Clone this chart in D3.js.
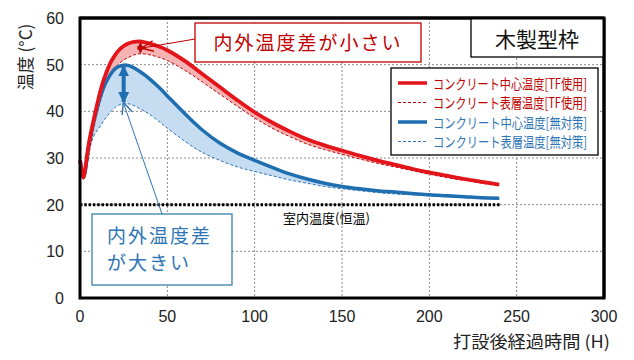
<!DOCTYPE html>
<html><head><meta charset="utf-8">
<script src="https://cdn.jsdelivr.net/npm/d3@7/dist/d3.min.js"></script>
<style>
html,body{margin:0;padding:0;background:#fff;}
svg text{font-family:"Liberation Sans","Noto Sans CJK JP",sans-serif;}
.jp{font-family:"Noto Sans CJK JP","Noto Sans",sans-serif;}
</style></head>
<body><svg id="c" width="634" height="360"></svg>
<script>
// ---- data ----
const hours      = [0,1,2,3,4,5,6,8,10,12,14,16,18,20,22,25,28,31,34,37,40,45,50,60,70,80,90,100,110,120,130,140,150,160,170,180,190,200,210,220,230,240];
const tfCenter   = [29.5,27.5,25.8,27.5,30.5,33,35,38.5,41.8,44.8,47.2,49.2,50.8,52,53,54,54.6,54.9,55,54.8,54.5,53.9,53.1,50.8,48,45.2,42.4,39.8,37.6,35.7,34.0,32.7,31.6,30.5,29.5,28.6,27.7,26.9,26.2,25.5,24.9,24.3];
const tfSurface  = [29.5,27.5,25.8,26.8,28.5,30.5,32.5,36.5,39.8,42.6,44.9,46.8,48.2,49.3,50.1,51,51.6,52.1,52.3,52.3,52.1,51.6,50.9,48.8,46.3,43.7,41.1,38.6,36.4,34.6,33.0,31.8,30.8,29.8,28.9,28.1,27.3,26.5,25.8,25.2,24.6,24.0];
const noCenter   = [29.5,27.5,25.8,27.3,30,32.5,34.5,38,41,43.5,45.5,47,48.2,49.1,49.6,49.9,49.8,49.3,48.6,47.8,46.9,45.2,43.3,39.5,36.0,33.2,31.1,29.5,28.0,26.6,25.5,24.6,23.9,23.4,23.0,22.7,22.4,22.1,21.9,21.7,21.5,21.4];
const noSurface  = [29.5,27.5,25.8,28,30,31.5,32.8,34.8,36,37,38.2,39.2,40.1,40.8,41.3,41.7,41.6,41.2,40.6,40,39.3,37.9,36.4,33.6,31.2,29.5,28.1,27.1,26.2,25.3,24.6,23.9,23.4,23.0,22.6,22.3,22.1,21.9,21.7,21.5,21.3,21.2];
const roomTemp   = [{h:0,t:20},{h:241,t:20}];
const xTicks = [0,50,100,150,200,250,300];
const yTicks = [0,10,20,30,40,50,60];
const legendLabels = ["コンクリート中心温度[TF使用]","コンクリート表層温度[TF使用]","コンクリート中心温度[無対策]","コンクリート表層温度[無対策]"];
const title = "木製型枠";
const xTitle = "打設後経過時間 (H)";
const yTitle = "温度 (°C)";
const roomLabel = "室内温度(恒温)";
const noteSmall = "内外温度差が小さい";
const noteLarge = ["内外温度差","が大きい"];
// annotation anchor points (data coords)
const smallArrow = {h:34, top:54.6, bottom:52.6};
const largeArrow = {h:25, top:49.6, bottom:42.0};

// ---- layout ----
const L=80, R=604, T=18, B=298;
const RED="#e4141b", REDD="#c00000", BLUE="#1f6eb0", BLUED="#2e75b6";
const svg=d3.select("#c");
const x=d3.scaleLinear().domain([0,300]).range([L,R]);
const y=d3.scaleLinear().domain([0,60]).range([B,T]);

const defs=svg.append("defs");
function mk(id,color,filled,size){
  const m=defs.append("marker").attr("id",id).attr("viewBox","0 0 10 10").attr("refX",9).attr("refY",5)
    .attr("markerWidth",size).attr("markerHeight",size).attr("orient","auto-start-reverse").attr("markerUnits","userSpaceOnUse");
  if(filled) m.append("path").attr("d","M0,0L10,5L0,10Z").attr("fill",color);
  else m.append("path").attr("d","M0,0.5L10,5L0,9.5").attr("fill","none").attr("stroke",color).attr("stroke-width",1.2);
}
mk("aRedF",REDD,true,7); mk("aBlueF",BLUE,true,11); mk("aRedO",REDD,false,12); mk("aBlueO",BLUED,false,12);

// grid
const g=svg.append("g");
g.selectAll(".gx").data(xTicks.filter(d=>d>0&&d<300)).enter().append("line")
  .attr("x1",d=>x(d)).attr("x2",d=>x(d)).attr("y1",T).attr("y2",B)
  .attr("stroke","#8a8a8a").attr("stroke-width",1).attr("stroke-dasharray","2,2");
g.selectAll(".gy").data(yTicks.filter(d=>d>0&&d<60)).enter().append("line")
  .attr("y1",d=>y(d)).attr("y2",d=>y(d)).attr("x1",L).attr("x2",R)
  .attr("stroke","#8a8a8a").attr("stroke-width",1).attr("stroke-dasharray","2,2");

// areas
const pts=(arr)=>hours.map((h,i)=>[h,arr[i]]);
const curve=d3.curveCatmullRom.alpha(0.5);
const band=(a,b)=>d3.area().x((d,i)=>x(hours[i])).y0((d,i)=>y(b[i])).y1((d,i)=>y(a[i])).curve(curve)(hours);
svg.append("path").attr("d",band(noCenter,noSurface)).attr("fill","#c5dcf1");
svg.append("path").attr("d",band(tfCenter,tfSurface)).attr("fill","#f6b3b3");

const line=d3.line().x(d=>x(d[0])).y(d=>y(d[1])).curve(curve);
svg.append("path").attr("d",line(pts(noSurface))).attr("fill","none").attr("stroke",BLUED).attr("stroke-width",1).attr("stroke-dasharray","3,2");
svg.append("path").attr("d",line(pts(tfSurface))).attr("fill","none").attr("stroke",REDD).attr("stroke-width",1).attr("stroke-dasharray","3,2");
svg.append("path").attr("d",line(pts(noCenter))).attr("fill","none").attr("stroke",BLUE).attr("stroke-width",3.5);
svg.append("path").attr("d",line(pts(tfCenter))).attr("fill","none").attr("stroke",RED).attr("stroke-width",3.8);

// room temp
svg.append("line").attr("x1",x(roomTemp[0].h)).attr("x2",x(roomTemp[1].h)).attr("y1",y(roomTemp[0].t)).attr("y2",y(roomTemp[1].t))
  .attr("stroke","#000").attr("stroke-width",3).attr("stroke-dasharray","2.5,1.8");
svg.append("text").attr("class","jp").attr("x",283).attr("y",y(20)+18).attr("font-size",13).attr("fill","#000").text(roomLabel);

// frame
svg.append("rect").attr("x",L).attr("y",T).attr("width",R-L).attr("height",B-T).attr("fill","none").attr("stroke","#000").attr("stroke-width",3);

// ticks
svg.selectAll(".xt").data(xTicks).enter().append("text").attr("x",d=>x(d)).attr("y",B+24)
  .attr("text-anchor","middle").attr("font-size",16).attr("fill","#222").text(d=>d);
svg.selectAll(".yt").data(yTicks).enter().append("text").attr("x",L-16).attr("y",d=>y(d)+6)
  .attr("text-anchor","end").attr("font-size",16).attr("fill","#222").text(d=>d);
svg.append("text").attr("class","jp").attr("x",453).attr("y",348).attr("font-size",17).attr("fill","#222")
  .attr("textLength",157).attr("lengthAdjust","spacingAndGlyphs").text(xTitle);
svg.append("text").attr("class","jp").attr("transform","translate(32,57) rotate(-90)").attr("text-anchor","middle").attr("font-size",17).attr("fill","#222").text(yTitle);

// arrows between curves
svg.append("line").attr("x1",x(smallArrow.h)+1).attr("x2",x(smallArrow.h)+1).attr("y1",y(smallArrow.top)).attr("y2",y(smallArrow.bottom))
  .attr("stroke",REDD).attr("stroke-width",2).attr("marker-start","url(#aRedF)").attr("marker-end","url(#aRedF)");
svg.append("line").attr("x1",x(largeArrow.h)).attr("x2",x(largeArrow.h)).attr("y1",y(largeArrow.top)).attr("y2",y(largeArrow.bottom))
  .attr("stroke",BLUE).attr("stroke-width",4).attr("marker-start","url(#aBlueF)").attr("marker-end","url(#aBlueF)");

// callout: small difference
svg.append("line").attr("x1",195).attr("y1",39).attr("x2",x(36)).attr("y2",y(53.6)).attr("stroke",REDD).attr("stroke-width",1).attr("marker-end","url(#aRedO)");
svg.append("rect").attr("x",195).attr("y",23).attr("width",226).attr("height",39).attr("fill","#fff").attr("stroke",REDD).attr("stroke-width",1.3);
svg.append("text").attr("class","jp").attr("x",308).attr("y",50).attr("text-anchor","middle").attr("font-size",19).attr("letter-spacing",2).attr("fill",REDD).text(noteSmall);

// callout: large difference
svg.append("line").attr("x1",162).attr("y1",214).attr("x2",x(largeArrow.h)).attr("y2",y(41.7)).attr("stroke",BLUED).attr("stroke-width",1).attr("marker-end","url(#aBlueO)");
svg.append("rect").attr("x",92).attr("y",214).attr("width",140).attr("height",71).attr("fill","#fff").attr("stroke","#3a7fa8").attr("stroke-width",1.3);
svg.selectAll(".nl").data(noteLarge).enter().append("text").attr("class","jp").attr("x",107).attr("y",(d,i)=>243+i*27)
  .attr("font-size",19).attr("letter-spacing",2).attr("fill",BLUED).text(d=>d);

// title box
svg.append("rect").attr("x",471).attr("y",18).attr("width",133).attr("height",39).attr("fill","#fff").attr("stroke","#000").attr("stroke-width",1.3);
svg.append("text").attr("class","jp").attr("x",537).attr("y",47).attr("text-anchor","middle").attr("font-size",21).attr("fill","#111").text(title);
// redraw right frame edge over title box
svg.append("line").attr("x1",R).attr("x2",R).attr("y1",T).attr("y2",B).attr("stroke","#000").attr("stroke-width",3);
svg.append("line").attr("x1",L).attr("x2",R).attr("y1",T).attr("y2",T).attr("stroke","#000").attr("stroke-width",3);

// legend
svg.append("rect").attr("x",391).attr("y",68).attr("width",207).attr("height",87).attr("fill","#fff").attr("stroke","#000").attr("stroke-width",1.3);
const lstyle=[{c:RED,w:3.5,d:null,t:REDD},{c:REDD,w:1,d:"3,2",t:REDD},{c:BLUE,w:3.5,d:null,t:BLUED},{c:BLUED,w:1,d:"3,2",t:BLUED}];
const lg=svg.selectAll(".lg").data(legendLabels).enter().append("g").attr("transform",(d,i)=>`translate(0,${83+i*19.5})`);
lg.append("line").attr("x1",398).attr("x2",427).attr("y1",0).attr("y2",0)
  .attr("stroke",(d,i)=>lstyle[i].c).attr("stroke-width",(d,i)=>lstyle[i].w).attr("stroke-dasharray",(d,i)=>lstyle[i].d);
lg.append("text").attr("class","jp").attr("x",433).attr("y",5.5).attr("font-size",14).attr("fill",(d,i)=>lstyle[i].t)
  .attr("textLength",154).attr("lengthAdjust","spacingAndGlyphs").text(d=>d);
</script></body></html>
